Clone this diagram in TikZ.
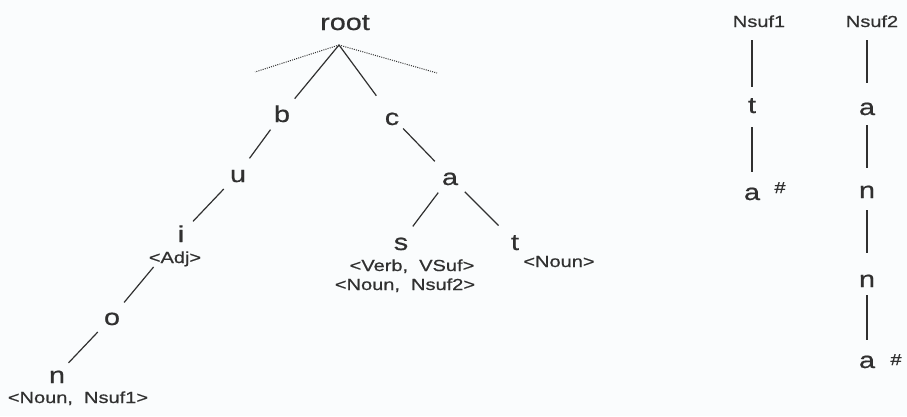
\documentclass[tikz,border=0pt]{standalone}
\usepackage{fontspec}
\setmainfont{Liberation Sans}[FakeStretch=1.25, FakeBold=0.6]
\usetikzlibrary{positioning}
\definecolor{ink}{HTML}{303030}
\definecolor{paper}{HTML}{FAFCFD}

\begin{document}
\begin{tikzpicture}[
    x=1pt, y=-1pt,
    letter/.style={inner sep=1pt, text height=16pt, text depth=0pt, text=ink, font=\fontsize{23}{26}\selectfont},
    tag/.style={inner sep=0pt, anchor=base, text=ink, font=\fontsize{16}{18}\selectfont},
    link/.style={draw=ink, line width=1.2pt, shorten <=8pt, shorten >=8pt},
    blank/.style={draw=ink, line width=1pt, dash pattern=on 1pt off 1.2pt}
]
\fill[paper] (0,0) rectangle (907,416);
\useasboundingbox (0,0) rectangle (907,416);

% Trie
\node[letter] (root) at (345,22) {root};
\coordinate (apex) at (339,45);
\coordinate (blankl) at (255,72);
\coordinate (blankr) at (437,73);
\node[letter] (b) at (282,114) {b};
\node[letter] (c) at (392,117) {c};
\node[letter] (u) at (238,174) {u};
\node[letter] (i) at (181,234) {i};
\node[letter] (o) at (112,317) {o};
\node[letter] (n) at (57,375) {n};
\node[letter] (a) at (450,177) {a};
\node[letter] (s) at (401,242) {s};
\node[letter] (t) at (515,242) {t};

% Categories
\node[tag] (adj) at (175,263) {<Adj>};
\node[tag] (noun1) at (78,403) {<Noun,\ \ Nsuf1>};
\node[tag] (verb) at (412,271) {<Verb,\ \ VSuf>};
\node[tag] (noun2) at (405,290) {<Noun,\ \ Nsuf2>};
\node[tag] (noun) at (559,267) {<Noun>};

% Branches
\draw[blank] (apex) -- (blankl);
\draw[blank] (apex) -- (blankr);
\draw[link, shorten <=0pt] (apex) -- (b);
\draw[link, shorten <=0pt, shorten >=15pt] (apex) -- (c);
\draw[link] (b) -- (u);
\draw[link, shorten >=11pt] (u) -- (i);
\draw[link, shorten <=36pt, shorten >=7pt] (i) -- (o);
\draw[link, shorten >=4pt] (o) -- (n);
\draw[link, shorten <=4pt, shorten >=9pt] (c) -- (a);
\draw[link] (a) -- (s);
\draw[link, shorten >=16pt] (a) -- (t);

% Suffix tries
\node[tag] (nsuf1) at (759,27) {Nsuf1};
\node[letter] (t1) at (752,105) {t};
\node[letter] (a1) at (752,192) {a};
\node[tag] (end1) at (780,193) {\#};

\node[tag] (nsuf2) at (872,27) {Nsuf2};
\node[letter] (a2) at (867,107) {a};
\node[letter] (n2) at (867,190) {n};
\node[letter] (n3) at (867,279) {n};
\node[letter] (a3) at (867,360) {a};
\node[tag] (end2) at (896,365) {\#};

\draw[link, shorten <=13pt, shorten >=9pt] (nsuf1.base -| t1) -- (t1);
\draw[link, shorten <=13pt, shorten >=11pt] (t1) -- (a1);
\draw[link, shorten <=13pt, shorten >=15pt] (nsuf2.base -| a2) -- (a2);
\draw[link, shorten <=9pt, shorten >=13pt] (a2) -- (n2);
\draw[link, shorten <=11pt, shorten >=17pt] (n2) -- (n3);
\draw[link, shorten <=7pt, shorten >=11pt] (n3) -- (a3);

\end{tikzpicture}
\end{document}
